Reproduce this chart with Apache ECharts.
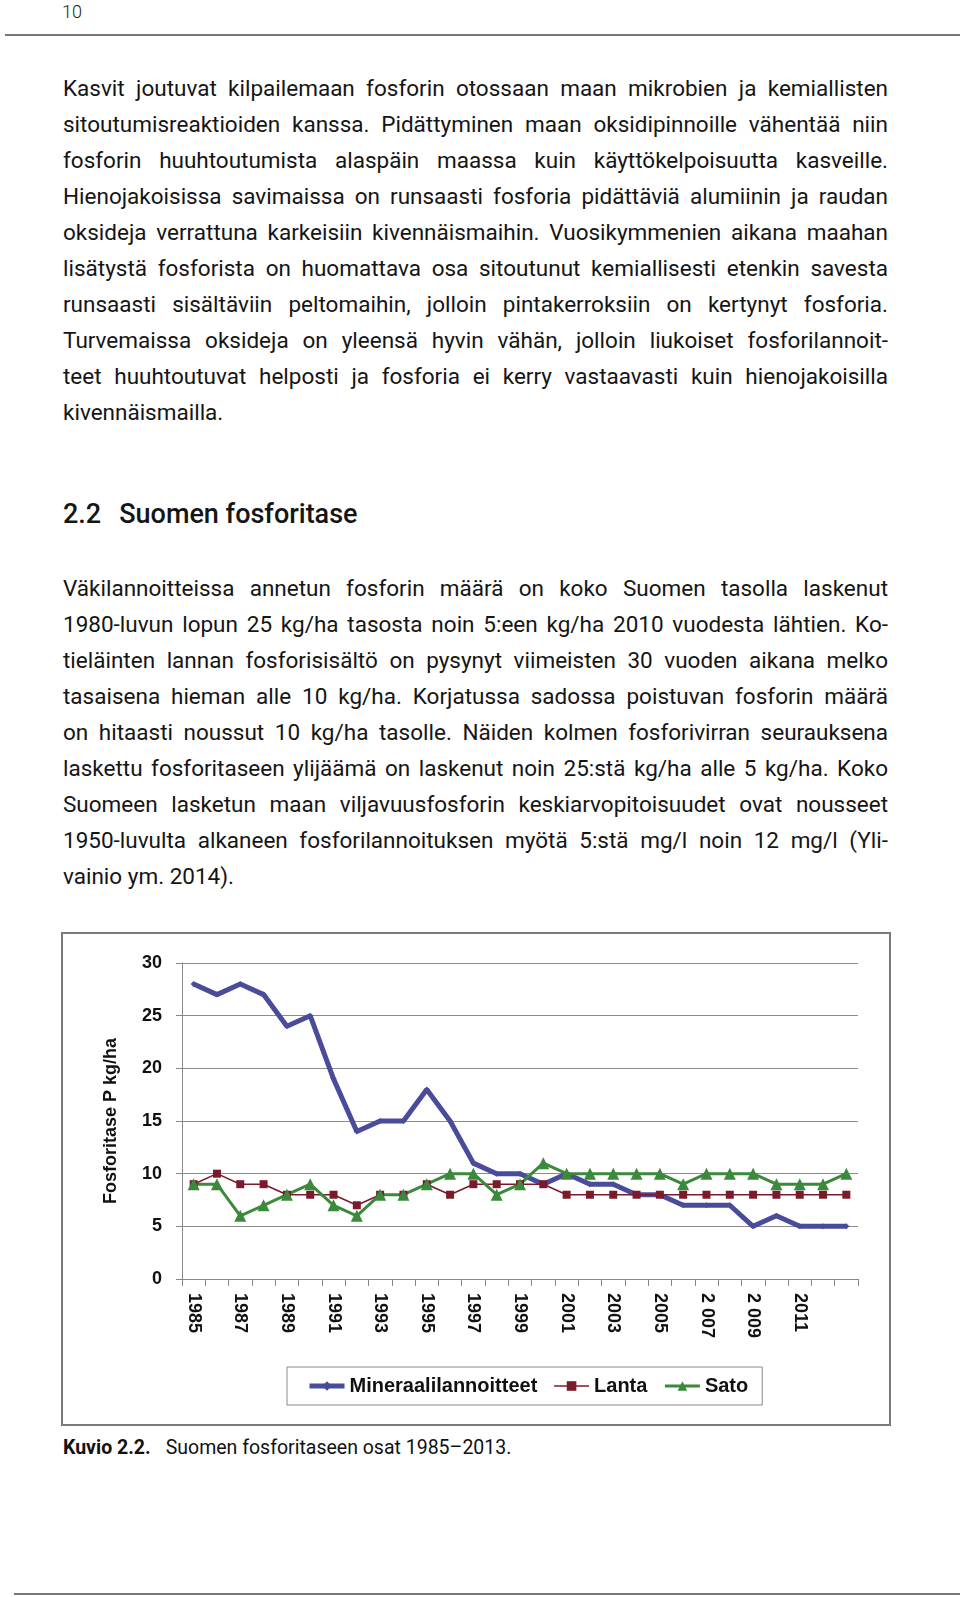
<!DOCTYPE html>
<html>
<head>
<meta charset="utf-8">
<script src="https://cdn.jsdelivr.net/npm/echarts@6/dist/echarts.min.js"></script>
<style>
  html, body { margin: 0; padding: 0; background: #fff; }
  body { width: 960px; height: 1597px; position: relative; overflow: hidden; font-family: Roboto, "Open Sans", sans-serif; color: #151515; }
  .abs { position: absolute; }
  .para { left: 63px; width: 825px; font-size: 22.5px; line-height: 36px; }
  .para div { text-align: justify; text-align-last: justify; white-space: nowrap; }
  .para div.last { text-align-last: left; }
  #chart { position: absolute; left: 61px; top: 932px; width: 830px; height: 494px; }
  #frame { position: absolute; left: 61px; top: 932px; width: 830px; height: 494px; box-sizing: border-box; border: 2px solid #7a7a7a; pointer-events: none; }
</style>
</head>
<body>
<div class="abs" style="left:62px; top:1px; font-size:18px; font-weight:300; color:#222;">10</div>
<div class="abs" style="left:5px; top:34px; width:955px; height:2px; background:#777;"></div>

<div class="abs para" style="top:70px;">
  <div>Kasvit joutuvat kilpailemaan fosforin otossaan maan mikrobien ja kemiallisten</div>
  <div>sitoutumisreaktioiden kanssa. Pidättyminen maan oksidipinnoille vähentää niin</div>
  <div>fosforin huuhtoutumista alaspäin maassa kuin käyttökelpoisuutta kasveille.</div>
  <div>Hienojakoisissa savimaissa on runsaasti fosforia pidättäviä alumiinin ja raudan</div>
  <div>oksideja verrattuna karkeisiin kivennäismaihin. Vuosikymmenien aikana maahan</div>
  <div>lisätystä fosforista on huomattava osa sitoutunut kemiallisesti etenkin savesta</div>
  <div>runsaasti sisältäviin peltomaihin, jolloin pintakerroksiin on kertynyt fosforia.</div>
  <div>Turvemaissa oksideja on yleensä hyvin vähän, jolloin liukoiset fosforilannoit-</div>
  <div>teet huuhtoutuvat helposti ja fosforia ei kerry vastaavasti kuin hienojakoisilla</div>
  <div class="last">kivennäismailla.</div>
</div>

<div class="abs" style="left:63px; top:498px; font-size:27px; font-weight:500; color:#151515;"><span>2.2</span><span style="margin-left:18px;">Suomen fosforitase</span></div>

<div class="abs para" style="top:570px;">
  <div>Väkilannoitteissa annetun fosforin määrä on koko Suomen tasolla laskenut</div>
  <div>1980-luvun lopun 25 kg/ha tasosta noin 5:een kg/ha 2010 vuodesta lähtien. Ko-</div>
  <div>tieläinten lannan fosforisisältö on pysynyt viimeisten 30 vuoden aikana melko</div>
  <div>tasaisena hieman alle 10 kg/ha. Korjatussa sadossa poistuvan fosforin määrä</div>
  <div>on hitaasti noussut 10 kg/ha tasolle. Näiden kolmen fosforivirran seurauksena</div>
  <div>laskettu fosforitaseen ylijäämä on laskenut noin 25:stä kg/ha alle 5 kg/ha. Koko</div>
  <div>Suomeen lasketun maan viljavuusfosforin keskiarvopitoisuudet ovat nousseet</div>
  <div>1950-luvulta alkaneen fosforilannoituksen myötä 5:stä mg/l noin 12 mg/l (Yli-</div>
  <div class="last">vainio ym. 2014).</div>
</div>

<div id="chart"></div>
<div id="frame"></div>

<div class="abs" style="left:63px; top:1436px; font-size:19.5px; color:#111;"><span style="font-weight:700;">Kuvio 2.2.</span><span style="margin-left:15px;">Suomen fosforitaseen osat 1985–2013.</span></div>

<div class="abs" style="left:14px; top:1593px; width:946px; height:2px; background:#777;"></div>

<script>
// ---- data ----
const years = ['1985','1986','1987','1988','1989','1990','1991','1992','1993','1994','1995','1996','1997','1998','1999','2000','2001','2002','2003','2004','2005','2006','2007','2008','2009','2010','2011','2012','2013'];
const xTickLabels = ['1985','','1987','','1989','','1991','','1993','','1995','','1997','','1999','','2001','','2003','','2005','','2 007','','2 009','','2011','',''];
const mineraalilannoitteet = [28,27,28,27,24,25,19,14,15,15,18,15,11,10,10,9,10,9,9,8,8,7,7,7,5,6,5,5,5];
const lanta = [9,10,9,9,8,8,8,7,8,8,9,8,9,9,9,9,8,8,8,8,8,8,8,8,8,8,8,8,8];
const sato = [9,9,6,7,8,9,7,6,8,8,9,10,10,8,9,11,10,10,10,10,10,9,10,10,10,9,9,9,10];
const seriesNames = ['Mineraalilannoitteet','Lanta','Sato'];
const yTitle = 'Fosforitase P kg/ha';

const chart = echarts.init(document.getElementById('chart'), null, { renderer: 'canvas' });
const labelFont = { fontFamily: '"Liberation Sans", Arial, sans-serif', fontWeight: 'bold', fontSize: 18, color: '#111' };
chart.setOption({
  animation: false,
  backgroundColor: '#fff',
  grid: { left: 121, right: 33, top: 31, bottom: 147, containLabel: false },
  legend: {
    data: [
      { name: seriesNames[0], lineStyle: { width: 5 } },
      { name: seriesNames[1], lineStyle: { width: 1.5 } },
      { name: seriesNames[2], lineStyle: { width: 3 } }
    ],
    left: 226, top: 435,
    padding: [9, 14, 9, 20],
    borderColor: '#8a8a8a', borderWidth: 1,
    itemWidth: 35, itemHeight: 12, itemGap: 16,
    textStyle: { fontFamily: '"Liberation Sans", Arial, sans-serif', fontWeight: 'bold', fontSize: 20, color: '#111' }
  },
  xAxis: {
    type: 'category',
    data: years,
    boundaryGap: true,
    axisLine: { show: true, lineStyle: { color: '#888', width: 1 } },
    axisTick: { show: true, interval: 0, length: 7, lineStyle: { color: '#888' } },
    axisLabel: Object.assign({ interval: 0, rotate: -90, margin: 14, formatter: (v, i) => xTickLabels[i] }, labelFont),
    splitLine: { show: false }
  },
  yAxis: {
    type: 'value',
    min: 0, max: 30, interval: 5,
    name: yTitle,
    nameLocation: 'middle',
    nameGap: 62,
    nameTextStyle: labelFont,
    axisLine: { show: true, lineStyle: { color: '#888', width: 1 } },
    axisTick: { show: true, length: 6, lineStyle: { color: '#888' } },
    axisLabel: Object.assign({ margin: 20 }, labelFont),
    splitLine: { show: true, lineStyle: { color: '#8c8c8c', width: 1 } }
  },
  series: [
    { name: seriesNames[0], type: 'line', data: mineraalilannoitteet, color: '#4b4b9b',
      lineStyle: { width: 5, color: '#4b4b9b' }, symbol: 'diamond', symbolSize: 6,
      itemStyle: { color: '#4b4b9b' } },
    { name: seriesNames[1], type: 'line', data: lanta, color: '#7a1a2a',
      lineStyle: { width: 1.5, color: '#7a1a2a' }, symbol: 'rect', symbolSize: 8,
      itemStyle: { color: '#7a1a2a' } },
    { name: seriesNames[2], type: 'line', data: sato, color: '#3b8a3b',
      lineStyle: { width: 3, color: '#3b8a3b' }, symbol: 'triangle', symbolSize: 12,
      itemStyle: { color: '#3b8a3b' } }
  ]
});
</script>
</body>
</html>
